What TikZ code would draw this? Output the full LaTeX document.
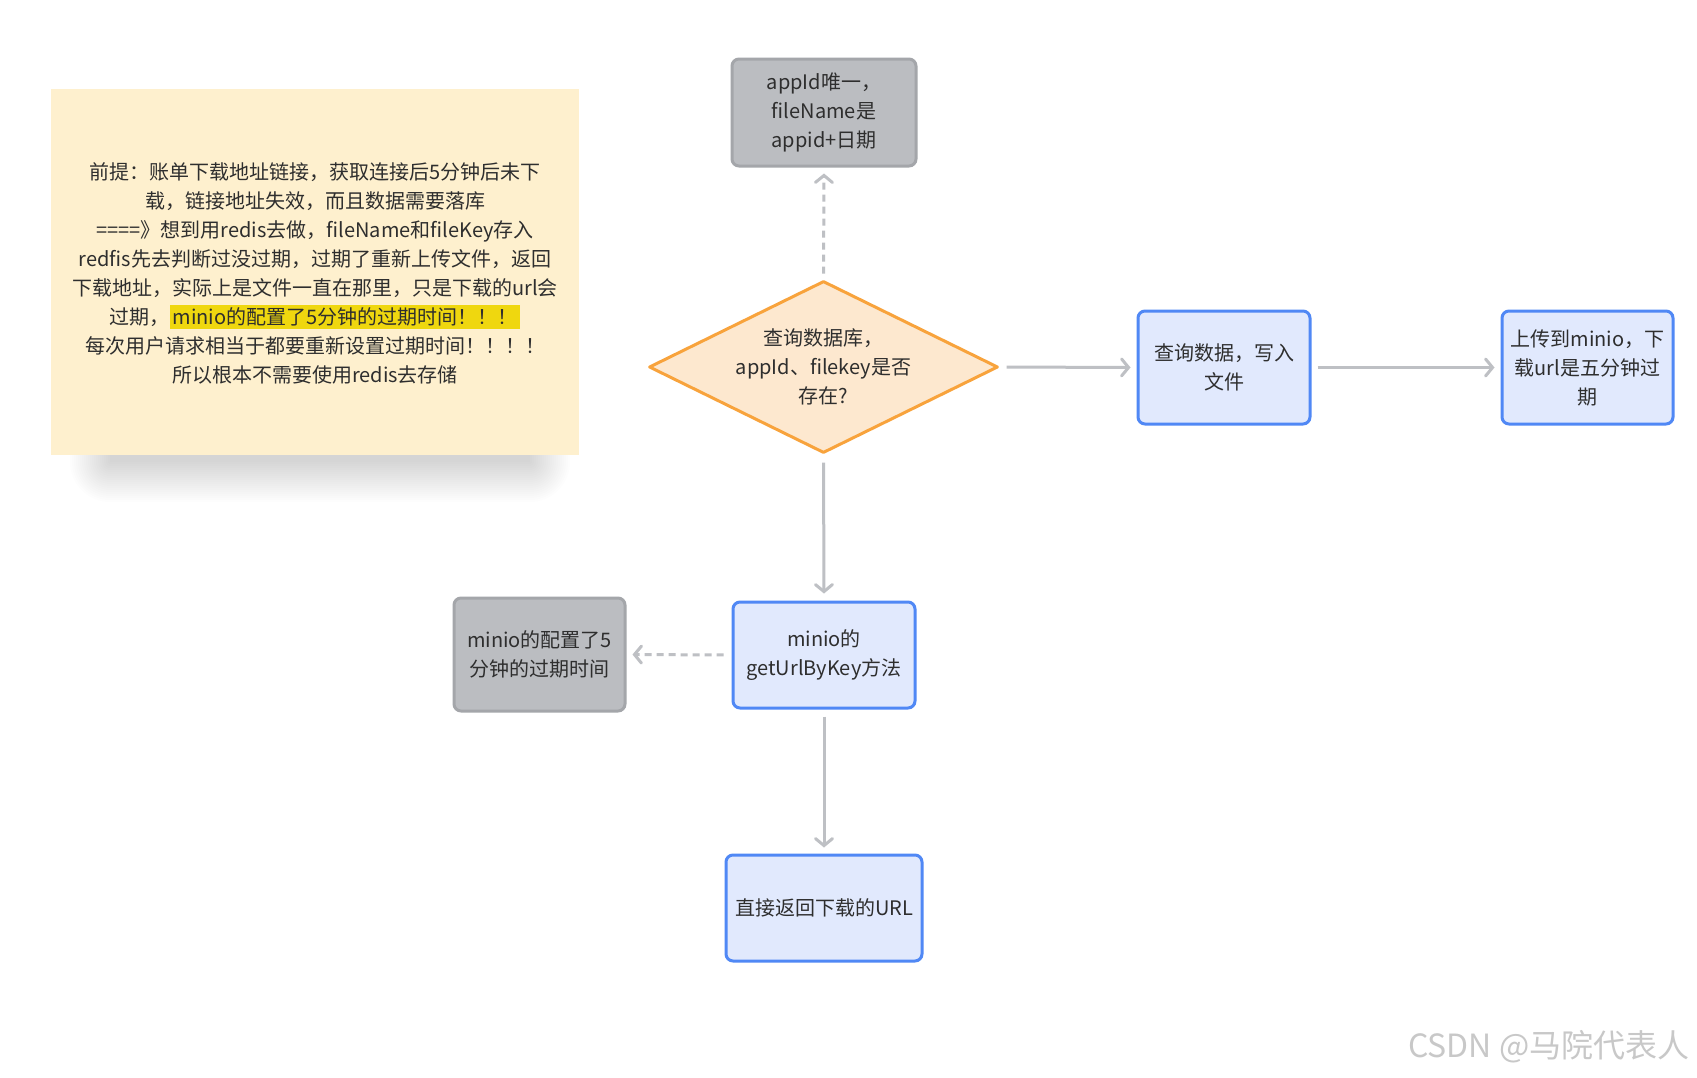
\documentclass[tikz,border=0pt]{standalone}
\usepackage{fontspec}
\newfontfamily\cjk{Noto Sans CJK SC}
\usetikzlibrary{shapes.geometric,arrows.meta}
\definecolor{txt}{HTML}{2E2E2E}
\definecolor{grayfill}{HTML}{BBBDC1}
\definecolor{graydraw}{HTML}{A4A6AA}
\definecolor{bluefill}{HTML}{E1E9FD}
\definecolor{bluedraw}{HTML}{5088F5}
\definecolor{orfill}{HTML}{FDE8CF}
\definecolor{ordraw}{HTML}{F8A33C}
\definecolor{notefill}{HTML}{FEF0CE}
\definecolor{hl}{HTML}{EFD70F}
\definecolor{arr}{HTML}{BEC0C4}
\definecolor{wm}{HTML}{C8C8C8}
\begin{document}
\begin{tikzpicture}[x=1pt,y=-1pt,
  every node/.style={text=txt,font=\cjk\fontsize{20}{29}\selectfont,align=center},
  graybox/.style={draw=graydraw,fill=grayfill,line width=3pt,rounded corners=7pt,inner sep=0pt},
  bluebox/.style={draw=bluedraw,fill=bluefill,line width=3pt,rounded corners=7pt,inner sep=0pt},
  decision/.style={diamond,draw=ordraw,fill=orfill,line width=3pt,inner sep=0pt,aspect=2,line join=round},
  flow/.style={draw=arr,line width=3pt,-{Straight Barb[length=7pt,width=17pt,line cap=round]}},
  dashflow/.style={flow,dash pattern=on 7pt off 5pt}
]
\useasboundingbox (0,0) rectangle (1697,1077);
\fill[white] (0,0) rectangle (1697,1077);
% shadow of note
\foreach \r in {0,2,...,40}{
  \fill[black,opacity=0.0075,rounded corners=\r pt] (110-\r,200-\r) rectangle (530+\r,462+\r);
}
% note
\node[fill=notefill,minimum width=528pt,minimum height=366pt,inner sep=0pt] (note) at (315,272) {};
\node (notetext) at (315,273.5) {\setlength{\fboxsep}{2pt}前提：账单下载地址链接，获取连接后5分钟后未下\\
载，链接地址失效，而且数据需要落库\\
====》想到用redis去做，fileName和fileKey存入\\
redfis先去判断过没过期，过期了重新上传文件，返回\\
下载地址，实际上是文件一直在那里，只是下载的url会\\
过期，\colorbox{hl}{minio的配置了5分钟的过期时间！！！}\\
每次用户请求相当于都要重新设置过期时间！！！！\\
所以根本不需要使用redis去存储};
% nodes
\node[graybox,minimum width=184pt,minimum height=107pt] (tb) at (824,112.5) {appId唯一，\\fileName是\\appid+日期};
\node[decision,minimum width=349pt,minimum height=172pt] (dia) at (823.5,367) {查询数据库，\\appId、filekey是否\\存在?};
\node[bluebox,minimum width=172pt,minimum height=113pt] (wr) at (1224,367.5) {查询数据，写入\\文件};
\node[bluebox,minimum width=171pt,minimum height=113pt] (up) at (1587.5,367.5) {上传到minio，下\\载url是五分钟过\\期};
\node[bluebox,minimum width=182pt,minimum height=106pt] (gu) at (824,655) {minio的\\getUrlByKey方法};
\node[graybox,minimum width=171pt,minimum height=113pt] (cfg) at (539.5,654.5) {minio的配置了5\\分钟的过期时间};
\node[bluebox,minimum width=196pt,minimum height=106pt] (ret) at (824,908) {直接返回下载的URL};
% connectors
\draw[dashflow,shorten <=6pt,shorten >=6pt] (dia.north) -- (tb.south);
\draw[flow,shorten <=7pt,shorten >=6pt] (dia.east) -- (wr.west);
\draw[flow,shorten <=6pt,shorten >=6pt] (wr.east) -- (up.west);
\draw[flow,shorten <=8pt,shorten >=7pt] (dia.south) -- (gu.north);
\draw[dashflow,shorten <=8pt,shorten >=6pt] (gu.west) -- (cfg.east);
\draw[flow,shorten <=7pt,shorten >=6pt] (gu.south) -- (ret.north);
% watermark
\node[anchor=east,text=wm,font=\cjk\fontsize{32}{32}\selectfont] (wmark) at (1693,1047) {CSDN @马院代表人};
\end{tikzpicture}
\end{document}
